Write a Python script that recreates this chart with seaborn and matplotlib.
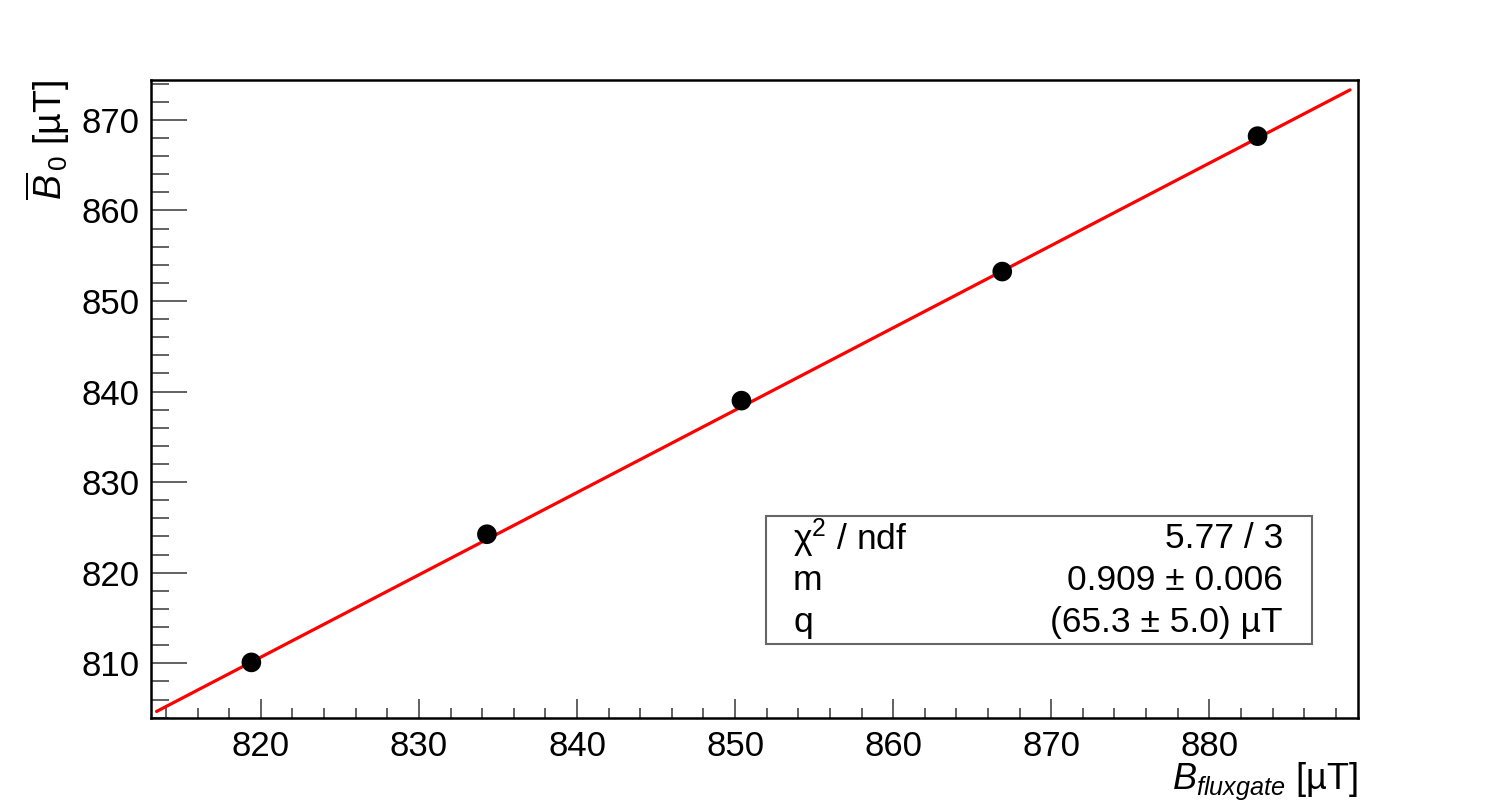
import seaborn as sns
import matplotlib.pyplot as plt
import matplotlib.patches as mpatches
import pandas as pd
import numpy as np

# Measured points
b_fluxgate = [819.4, 834.3, 850.4, 866.9, 883.05]
b0_mean = [810.1, 824.25, 839.0, 853.25, 868.2]

# Linear fit parameters (B0 = m * Bflux + q)
m_fit = 0.909
q_fit = 65.3
fit_range = [813.4, 888.9]

stat_labels = ["χ$^{2}$ / ndf", "m", "q"]
stat_values = ["5.77 / 3", "0.909 ± 0.006", "(65.3 ± 5.0) µT"]

df = pd.DataFrame({"x": b_fluxgate, "y": b0_mean})
fit_x = np.array(fit_range)
df_fit = pd.DataFrame({"x": fit_x, "y": m_fit * fit_x + q_fit})

sns.set_style("white")
plt.rcParams["font.family"] = ["Liberation Sans", "DejaVu Sans"]
plt.rcParams["mathtext.fontset"] = "custom"
plt.rcParams["mathtext.rm"] = "Liberation Sans"
plt.rcParams["mathtext.it"] = "Liberation Sans:italic"
plt.rcParams["mathtext.bf"] = "Liberation Sans:bold"
plt.rcParams["text.color"] = "black"
plt.rcParams["axes.labelcolor"] = "black"

fig = plt.figure(figsize=(15.1, 8), dpi=100)
ax = fig.add_axes([0.1, 0.1025, 0.7993, 0.7975])

sns.lineplot(data=df_fit, x="x", y="y", color="#ff0000", linewidth=2.3, ax=ax)
sns.scatterplot(data=df, x="x", y="y", color="black", s=200, edgecolor="none", ax=ax, zorder=3)

ax.set_xlim(813.05, 889.4)
ax.set_ylim(803.96, 874.4)

ax.set_xticks(np.arange(820, 881, 10))
ax.set_xticks(np.arange(814, 890, 2), minor=True)
ax.set_yticks(np.arange(810, 871, 10))
ax.set_yticks(np.arange(804, 875, 2), minor=True)

ax.tick_params(axis="both", which="both", direction="in", colors="#555555",
               labelcolor="black", labelsize=25, width=1.3,
               bottom=True, left=True, top=False, right=False)
ax.tick_params(axis="y", which="major", length=26, pad=8)
ax.tick_params(axis="y", which="minor", length=13)
ax.tick_params(axis="x", which="major", length=14, pad=9)
ax.tick_params(axis="x", which="minor", length=7)

for sp in ax.spines.values():
    sp.set_color("black")
    sp.set_linewidth(1.8)

ax.set_xlabel(r"$B_{fluxgate}$ [µT]", fontsize=26, loc="right", labelpad=-2)
ax.set_ylabel(r"$\overline{B}_{\,0}$ [µT]", fontsize=27, loc="top", labelpad=7)

# fit statistics box
box = mpatches.Rectangle((0.5095, 0.116), 0.4525, 0.2006, transform=ax.transAxes,
                         facecolor="white", edgecolor="#666666", linewidth=1.5, zorder=4)
ax.add_patch(box)
rows_y = [0.281, 0.2155, 0.149]
for lab, val, yy in zip(stat_labels, stat_values, rows_y):
    ax.text(0.532, yy, lab, transform=ax.transAxes, fontsize=25.5, ha="left", va="center", zorder=5)
    ax.text(0.938, yy, val, transform=ax.transAxes, fontsize=25.5, ha="right", va="center", zorder=5)

plt.savefig("out.png", dpi=100)
